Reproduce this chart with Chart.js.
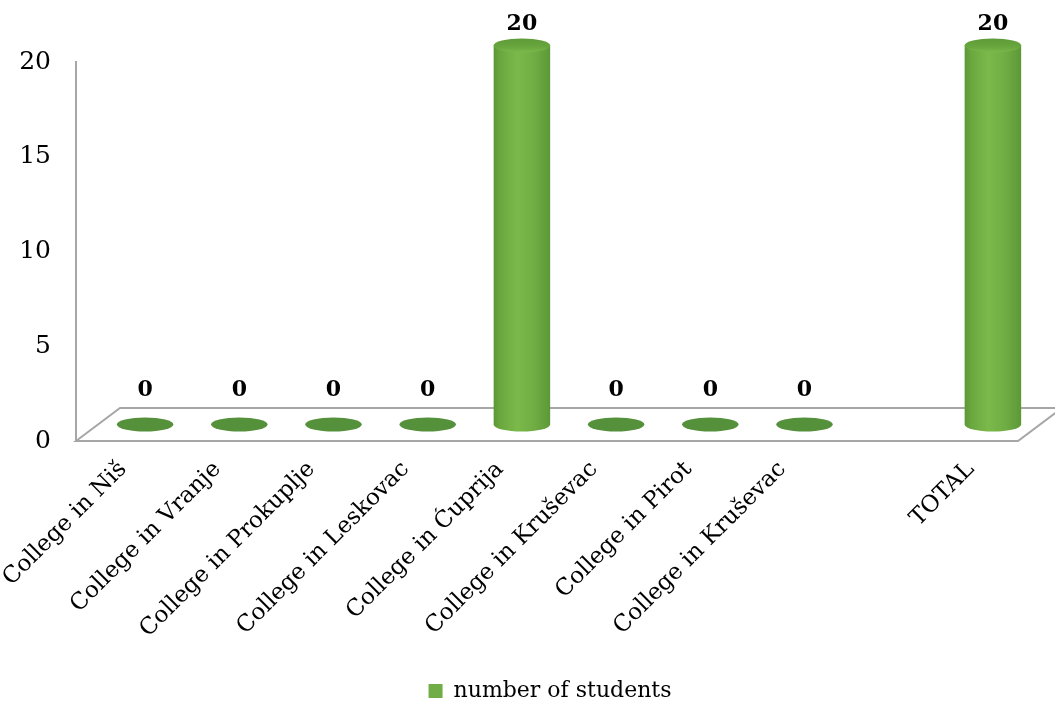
<!DOCTYPE html>
<html>
<head>
<meta charset="utf-8">
<script src="https://cdn.jsdelivr.net/npm/chart.js@4.4.0/dist/chart.umd.min.js"></script>
<style>
  html, body { margin: 0; padding: 0; background: #fff; }
  #wrap { width: 1055px; height: 702px; }
</style>
</head>
<body>
<div id="wrap"><canvas id="chart" width="1055" height="702"></canvas></div>
<script>
// Students per college; the blank slot keeps a gap before the total
const categories = ['College in Niš', 'College in Vranje', 'College in Prokuplje', 'College in Leskovac',
    'College in Ćuprija', 'College in Kruševac', 'College in Pirot', 'College in Kruševac', '', 'TOTAL'];
const students = [0, 0, 0, 0, 20, 0, 0, 0, null, 20];
const yTicks = [0, 5, 10, 15, 20];

const FONT = '"DejaVu Serif", serif';
const DEPTH_X = 44, DEPTH_Y = 33;   // offset of the back edge of the floor
const PLOT_LEFT = 76, PLOT_BOTTOM = 441;

// Floor of the 3d plot area (front edge = x axis, back edge shifted by depth)
const floor3d = {
    id: 'floor3d',
    beforeDatasetsDraw(chart) {
        const { ctx, chartArea: a } = chart;
        ctx.save();
        ctx.strokeStyle = '#a6a6a6';
        ctx.lineWidth = 2;
        ctx.beginPath();
        ctx.moveTo(a.left, a.bottom);
        ctx.lineTo(a.left + DEPTH_X, a.bottom - DEPTH_Y);
        ctx.lineTo(a.right + DEPTH_X, a.bottom - DEPTH_Y);
        ctx.lineTo(a.right, a.bottom);
        ctx.closePath();
        ctx.stroke();
        ctx.restore();
    }
};

// Draws every bar as a cylinder standing in the middle of the floor
const cylinders = {
    id: 'cylinders',
    beforeDatasetDraw() {
        return false; // skip the flat bars, drawn below instead
    },
    afterDatasetsDraw(chart) {
        const ctx = chart.ctx;
        const meta = chart.getDatasetMeta(0);
        ctx.save();
        meta.data.forEach((bar, i) => {
            const v = students[i];
            if (v == null) return;
            const p = bar.getProps(['x', 'y', 'base', 'width'], true);
            const cx = p.x + DEPTH_X / 2;
            const rx = p.width / 2, ry = 7;
            const yb = p.base - DEPTH_Y / 2;
            const yt = p.y - DEPTH_Y / 2;

            if (v === 0) {
                ctx.fillStyle = '#55903a';
                ctx.beginPath();
                ctx.ellipse(cx, yb, rx, ry, 0, 0, Math.PI * 2);
                ctx.fill();
            } else {
                const g = ctx.createLinearGradient(cx - rx, 0, cx + rx, 0);
                g.addColorStop(0, '#5c9836');
                g.addColorStop(0.12, '#6aa83f');
                g.addColorStop(0.42, '#7cb94b');
                g.addColorStop(0.75, '#6eab42');
                g.addColorStop(1, '#5c9836');
                ctx.fillStyle = g;
                ctx.beginPath();
                ctx.moveTo(cx - rx, yt);
                ctx.lineTo(cx - rx, yb);
                ctx.ellipse(cx, yb, rx, ry, 0, Math.PI, 0, true);
                ctx.lineTo(cx + rx, yt);
                ctx.closePath();
                ctx.fill();

                const tg = ctx.createLinearGradient(0, yt - ry, 0, yt + ry);
                tg.addColorStop(0, '#5f9b38');
                tg.addColorStop(0.6, '#68a63e');
                tg.addColorStop(1, '#7cb94c');
                ctx.fillStyle = tg;
                ctx.beginPath();
                ctx.ellipse(cx, yt, rx, ry, 0, 0, Math.PI * 2);
                ctx.fill();
            }

            // value label
            ctx.fillStyle = '#000';
            ctx.font = 'bold 22px ' + FONT;
            ctx.textAlign = 'center';
            ctx.textBaseline = 'middle';
            ctx.fillText(String(v), cx, yt - (v === 0 ? 34 : 21));
        });
        ctx.restore();
    }
};

// Legend sits centred under the plot area rather than the canvas
const legendShift = {
    id: 'legendShift',
    afterLayout(chart) {
        const a = chart.chartArea;
        const lg = chart.legend;
        const dx = (a.left + a.right) / 2 - (lg.left + lg.right) / 2;
        lg.left += dx + 3;
        lg.right += dx + 3;
        lg.top += 10;
        lg.bottom += 10;
    }
};

new Chart(document.getElementById('chart'), {
    type: 'bar',
    data: {
        labels: categories,
        datasets: [{
            label: 'number of students',
            data: students,
            backgroundColor: '#70ad47',
            categoryPercentage: 1,
            barPercentage: 0.6
        }]
    },
    options: {
        responsive: false,
        animation: false,
        devicePixelRatio: 1,
        layout: { padding: { top: 62, right: 37, left: 0, bottom: 0 } },
        plugins: {
            legend: {
                position: 'bottom',
                labels: {
                    font: { family: FONT, size: 22 },
                    color: '#000',
                    boxWidth: 14,
                    boxHeight: 14,
                    padding: 4
                }
            },
            tooltip: { enabled: false }
        },
        scales: {
            x: {
                grid: { display: false },
                border: { display: false },
                ticks: {
                    font: { family: FONT, size: 23 },
                    color: '#000',
                    minRotation: 45,
                    maxRotation: 45,
                    padding: 7,
                    autoSkip: false
                },
                afterFit(scale) {
                    // keep the plot floor at a fixed height, labels hang below it
                    scale.paddingLeft = 0;
                    scale.paddingRight = 0;
                    const lg = scale.chart.legend;
                    scale.height = scale.chart.height - PLOT_BOTTOM - (lg ? lg.height : 0);
                }
            },
            y: {
                min: 0,
                max: 20,
                afterBuildTicks(scale) {
                    scale.ticks = yTicks.map(v => ({ value: v }));
                },
                afterFit(scale) {
                    scale.width = PLOT_LEFT;
                },
                grid: { display: false },
                border: { display: true, color: '#a6a6a6', width: 2 },
                ticks: {
                    font: { family: FONT, size: 25 },
                    color: '#000',
                    padding: 17
                }
            }
        }
    },
    plugins: [floor3d, cylinders, legendShift]
});
</script>
</body>
</html>
